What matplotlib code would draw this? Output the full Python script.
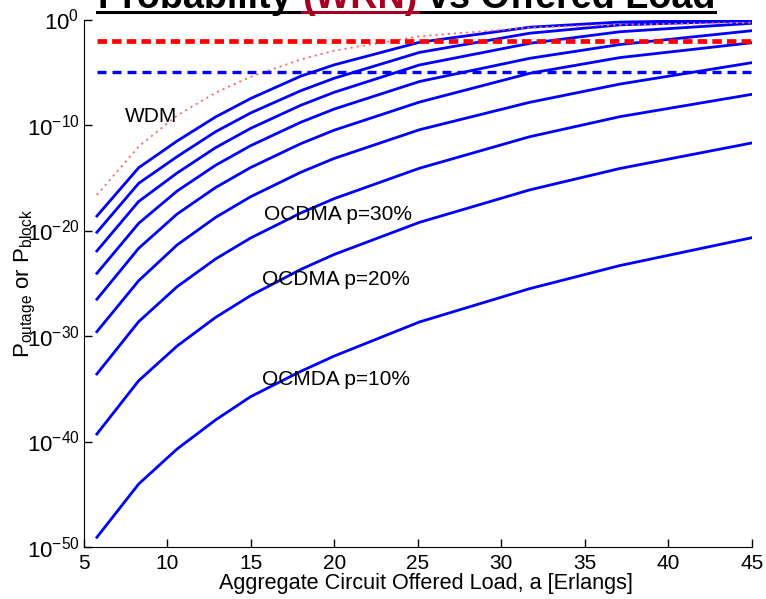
import numpy as np
import matplotlib
matplotlib.use('Agg')
import matplotlib.pyplot as plt
from matplotlib.lines import Line2D
from matplotlib.ticker import FixedLocator, NullLocator

plt.rcParams['font.family'] = ['Liberation Sans', 'DejaVu Sans']
plt.rcParams['mathtext.fontset'] = 'custom'
plt.rcParams['mathtext.rm'] = 'Liberation Sans'
plt.rcParams['mathtext.it'] = 'Liberation Sans:italic'
plt.rcParams['mathtext.bf'] = 'Liberation Sans:bold'
plt.rcParams['mathtext.default'] = 'regular'

# offered load points (Erlangs)
load = [5.8, 8.3, 10.6, 12.9, 15.0, 18.0, 20.0, 25.1, 31.7, 37.1, 45.0]

# log10 of outage probability, OCDMA curves from top to bottom
ocdma_1 = [-18.63, -14.05, -11.52, -9.24, -7.49, -5.37, -4.30, -2.16, -0.73, -0.24, -0.05]
ocdma_2 = [-20.17, -15.53, -13.00, -10.64, -8.86, -6.75, -5.57, -3.12, -1.30, -0.51, -0.12]
ocdma_3 = [-21.94, -17.25, -14.55, -12.15, -10.32, -8.13, -6.90, -4.31, -2.26, -1.16, -0.36]
ocdma_4 = [-24.06, -19.32, -16.26, -13.82, -11.96, -9.74, -8.49, -5.88, -3.68, -2.37, -1.06]
ocdma_5 = [-26.52, -21.69, -18.44, -15.93, -14.03, -11.77, -10.49, -7.83, -5.10, -3.61, -2.20]
ocdma_6 = [-29.59, -24.76, -21.37, -18.76, -16.80, -14.48, -13.17, -10.45, -7.85, -6.12, -4.09]
ocdma_7 = [-33.60, -28.64, -25.33, -22.70, -20.71, -18.34, -16.98, -14.10, -11.11, -9.21, -7.09]
ocdma_8 = [-39.29, -34.24, -30.95, -28.24, -26.17, -23.69, -22.27, -19.23, -16.15, -14.12, -11.70]
ocdma_9 = [-49.08, -44.03, -40.71, -37.96, -35.75, -33.35, -31.90, -28.67, -25.51, -23.32, -20.68]

# log10 of WDM blocking probability
wdm = [-16.63, -12.04, -9.10, -6.94, -5.43, -3.79, -2.95, -1.59, -0.77, -0.49, -0.30]

red_level = 1e-2
blue_level = 1e-5

curves = [ocdma_1, ocdma_2, ocdma_3, ocdma_4, ocdma_5, ocdma_6, ocdma_7, ocdma_8, ocdma_9]

W, H = 766, 599
fig = plt.figure(figsize=(W / 100, H / 100), dpi=100)
ax = fig.add_axes([83.5 / W, 52 / H, 668.5 / W, 527.5 / H])

for c in curves:
    ax.semilogy(load, 10.0 ** np.array(c), color='#0000ff', lw=2.0)
ax.semilogy(load, 10.0 ** np.array(wdm), color='#ff6b6b', lw=1.3, ls=(0, (1.2, 2.2)))

ax.plot([load[0], load[-1]], [red_level, red_level], color='#ff0000', lw=3.4, ls=(0, (2.0, 1.1)))
ax.plot([load[0], load[-1]], [blue_level, blue_level], color='#0000ff', lw=2.4, ls=(0, (2.7, 1.8)))

ax.text(7.49, 10 ** -9.15, 'WDM', fontsize=15, va='center', ha='left')
ax.text(15.81, 10 ** -18.53, 'OCDMA p=30%', fontsize=15, va='center', ha='left')
ax.text(15.69, 10 ** -24.69, 'OCDMA p=20%', fontsize=15, va='center', ha='left')
ax.text(15.69, 10 ** -34.17, 'OCMDA p=10%', fontsize=15, va='center', ha='left')

ax.set_xlim(5, 45)
ax.set_ylim(1e-50, 1e0)
ax.xaxis.set_major_locator(FixedLocator(np.arange(5, 46, 5)))
ax.yaxis.set_major_locator(FixedLocator([1e-50, 1e-40, 1e-30, 1e-20, 1e-10, 1e0]))
ax.yaxis.set_minor_locator(NullLocator())
ax.tick_params(direction='in', length=6, width=1)
ax.tick_params(axis='x', labelsize=15, pad=5)
ax.tick_params(axis='y', labelsize=16, pad=3)
for s in ['top', 'right']:
    ax.spines[s].set_visible(False)

ax.set_xlabel('Aggregate Circuit Offered Load, a [Erlangs]', fontsize=15.6)
ax.xaxis.set_label_coords(0.512, -0.050)
ax.set_ylabel(r'$\mathregular{P_{outage}\ or\ P_{block}}$', fontsize=16)
ax.yaxis.set_label_coords(-0.068, 0.5)

# title, partly cut at the top, underlined, with (WRN) in dark red
r = fig.canvas.get_renderer()
tkw = dict(fontsize=27.2, fontweight='bold', va='baseline', ha='left')
x0 = 97
base = H - 7.5


def width(s):
    t = fig.text(0, 0, s, **tkw)
    w = t.get_window_extent(r).width
    t.remove()
    return w


full = 'Probability (WRN) vs Offered Load'
w_full = width(full)
x_red = x0 + width('Probability (WRN)') - width('(WRN)')
x_end_red = x0 + width('Probability (WRN)')
x_rest = x0 + w_full - width('vs Offered Load')

fig.text(x0 / W, base / H, 'Probability', color='black', **tkw)
fig.text(x_red / W, base / H, '(WRN)', color='#a50021', **tkw)
fig.text(x_rest / W, base / H, 'vs Offered Load', color='black', **tkw)

uy = (H - 11.7) / H
fig.add_artist(Line2D([x0 / W, (x0 + w_full) / W], [uy, uy], color='black', lw=2.2))
fig.add_artist(Line2D([x_red / W, x_end_red / W], [uy, uy], color='#a50021', lw=2.2))

fig.savefig('out.png', dpi=100)
